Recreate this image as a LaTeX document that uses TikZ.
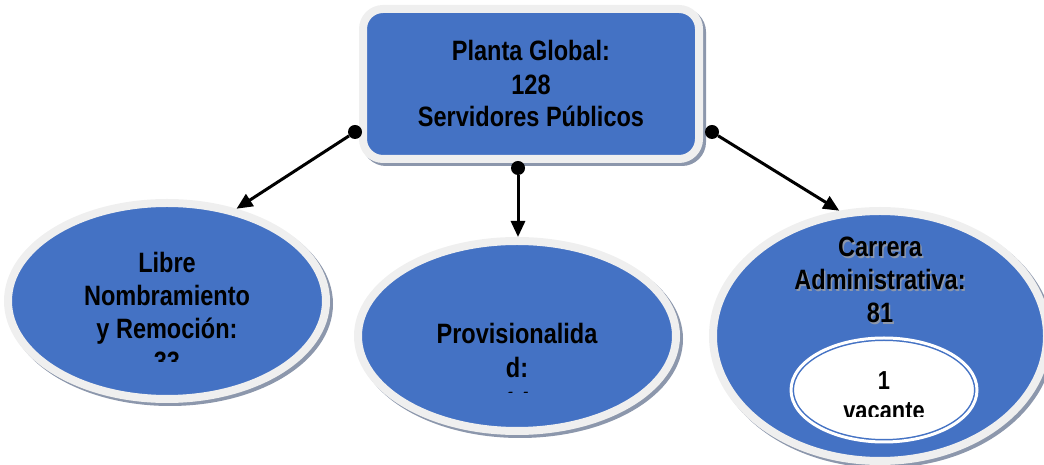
\documentclass[tikz,border=0pt]{standalone}
\usepackage{fontspec}
\setmainfont{Liberation Sans}[FakeStretch=0.84]
\usetikzlibrary{arrows.meta,shapes.geometric,shadows}
\definecolor{boxblue}{HTML}{4472C4}
\definecolor{rimgray}{HTML}{EFEFEF}
\definecolor{shadegray}{HTML}{8C97AC}

\begin{document}
\begin{tikzpicture}[x=1pt,y=1pt,
    blob/.style={fill=boxblue, draw=rimgray, line width=8pt,
      drop shadow={shadow xshift=3pt, shadow yshift=-3pt, opacity=1,
        fill=shadegray, draw=shadegray, line width=8pt}},
    oval/.style={blob, ellipse, inner sep=0pt},
    txt/.style={align=center, font=\bfseries\fontsize{28}{33}\selectfont},
    dot/.style={circle, fill=black, inner sep=0pt, minimum size=14pt},
    link/.style={-{Triangle[length=16pt,width=14pt]}, line width=3pt}]
    \useasboundingbox (0,0) rectangle (1044,465);

    % Total staff
    \node[blob, rounded corners=20pt, minimum width=336pt, minimum height=150pt, txt]
        (planta) at (531,381) {Planta Global:\\128\\Servidores Públicos};

    % Three groups
    \node[oval, minimum width=318pt, minimum height=196pt] (libre) at (167,164) {};
    \node[oval, minimum width=318pt, minimum height=190pt] (prov) at (517,129) {};
    \node[oval, minimum width=334pt, minimum height=250pt] (carrera) at (880,129) {};

    \begin{scope}
        \clip (0,103) rectangle (340,300);
        \node[txt] (libretxt) at (167,153) {Libre\\Nombramiento\\y Remoción:\\33};
    \end{scope}
    \begin{scope}
        \clip (350,72) rectangle (690,240);
        \node[txt, font=\bfseries\fontsize{28}{34}\selectfont] (provtxt) at (517,98) {Provisionalida\\d:\\14};
    \end{scope}
    \node[txt, text=shadegray] at (881.5,183.5) {Carrera\\Administrativa:\\81};
    \node[txt] (carreratxt) at (880,185) {Carrera\\Administrativa:\\81};

    % Vacancy inside the career group
    \node[ellipse, fill=white, draw=boxblue, double=white, double distance=3pt,
        line width=1.5pt, minimum width=186pt, minimum height=104pt] (vacante) at (884,75) {};
    \begin{scope}
        \clip (780,48) rectangle (990,130);
        \node[txt, font=\bfseries\fontsize{26}{30}\selectfont] (vacantetxt) at (884,69) {1\\vacante};
    \end{scope}

    % Connectors
    \node[dot] (dl) at (355,333) {};
    \node[dot] (dm) at (518,297) {};
    \node[dot] (dr) at (712,333) {};
    \draw[link] (dl) -- (libre.53);
    \draw[link] (dm) -- (dm |- prov.north);
    \draw[link] (dr) -- (carrera.108);
\end{tikzpicture}
\end{document}
